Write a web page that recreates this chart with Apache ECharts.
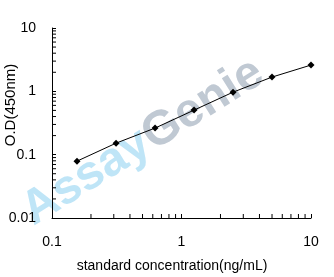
<!DOCTYPE html>
<html>
<head>
<meta charset="utf-8">
<script src="https://cdn.jsdelivr.net/npm/echarts@6/dist/echarts.min.js"></script>
<style>html,body{margin:0;padding:0;background:#fff}#c{width:334px;height:277px}</style>
</head>
<body>
<div id="c"></div>
<script>
var concentrations = [0.156, 0.3125, 0.625, 1.25, 2.5, 5, 10];
var odValues = [0.079, 0.152, 0.263, 0.505, 0.97, 1.68, 2.6];
var xMinorTicks = [0.2,0.3,0.4,0.5,0.6,0.7,0.8,0.9,2,3,4,5,6,7,8,9];
var yMinorTicks = [0.02,0.03,0.04,0.05,0.06,0.07,0.08,0.09,0.2,0.3,0.4,0.5,0.6,0.7,0.8,0.9,2,3,4,5,6,7,8,9];
var xTitle = 'standard concentration(ng/mL)';
var yTitle = 'O.D(450nm)';

var font = 'Liberation Sans, Arial, sans-serif';
var chart = echarts.init(document.getElementById('c'), null, {renderer: 'canvas'});

var tickData = [];
xMinorTicks.forEach(function(v){ tickData.push([v, 0.01, 0]); });
yMinorTicks.forEach(function(v){ tickData.push([0.1, v, 1]); });

chart.setOption({
  animation: false,
  backgroundColor: '#fff',
  grid: {left: 52, right: 23, top: 28, bottom: 59},
  xAxis: {
    type: 'log', min: 0.1, max: 10, logBase: 10,
    axisLine: {lineStyle: {color: '#000', width: 1}},
    axisTick: {inside: true, length: 4, lineStyle: {color: '#000'}},
    axisLabel: {color: '#000', fontSize: 14, fontFamily: font, margin: 17},
    splitLine: {show: false}
  },
  yAxis: {
    type: 'log', min: 0.01, max: 10, logBase: 10,
    axisLine: {show: true, lineStyle: {color: '#000', width: 1}},
    axisTick: {show: true, inside: true, length: 4, lineStyle: {color: '#000'}},
    axisLabel: {color: '#000', fontSize: 14, fontFamily: font, margin: 16},
    splitLine: {show: false}
  },
  graphic: [
    {
      type: 'text', x: 143, y: 142, rotation: 32 * Math.PI / 180, z: -10, silent: true,
      style: {
        text: '{a|Assay}{g|Genie}',
        align: 'center', verticalAlign: 'middle',
        font: 'bold 48px ' + font,
        rich: {
          a: {fill: '#bfe5f7', fontSize: 48, fontWeight: 'bold', fontFamily: font},
          g: {fill: '#c0c9d3', fontSize: 48, fontWeight: 'bold', fontFamily: font}
        }
      }
    },
    {
      type: 'text', x: 172, y: 266,
      style: {text: xTitle, align: 'center', verticalAlign: 'middle', fill: '#000', font: '14px ' + font}
    },
    {
      type: 'text', x: 11, y: 105, rotation: Math.PI / 2,
      style: {text: yTitle, align: 'center', verticalAlign: 'middle', fill: '#000', font: '15px ' + font}
    }
  ],
  series: [
    {
      type: 'custom',
      coordinateSystem: 'cartesian2d',
      data: tickData,
      clip: false,
      silent: true,
      z: 3,
      renderItem: function(params, api){
        var p = api.coord([api.value(0), api.value(1)]);
        var horiz = api.value(2) === 1;
        var x2 = horiz ? p[0] + 4 : p[0];
        var y2 = horiz ? p[1] : p[1] - 4;
        return {type: 'line', shape: {x1: p[0], y1: p[1], x2: x2, y2: y2}, style: {stroke: '#000', lineWidth: 1}};
      }
    },
    {
      type: 'line',
      data: concentrations.map(function(c, i){ return [c, odValues[i]]; }),
      symbol: 'diamond', symbolSize: 7,
      lineStyle: {color: '#000', width: 1},
      itemStyle: {color: '#000'},
      z: 4
    }
  ]
});
</script>
</body>
</html>
